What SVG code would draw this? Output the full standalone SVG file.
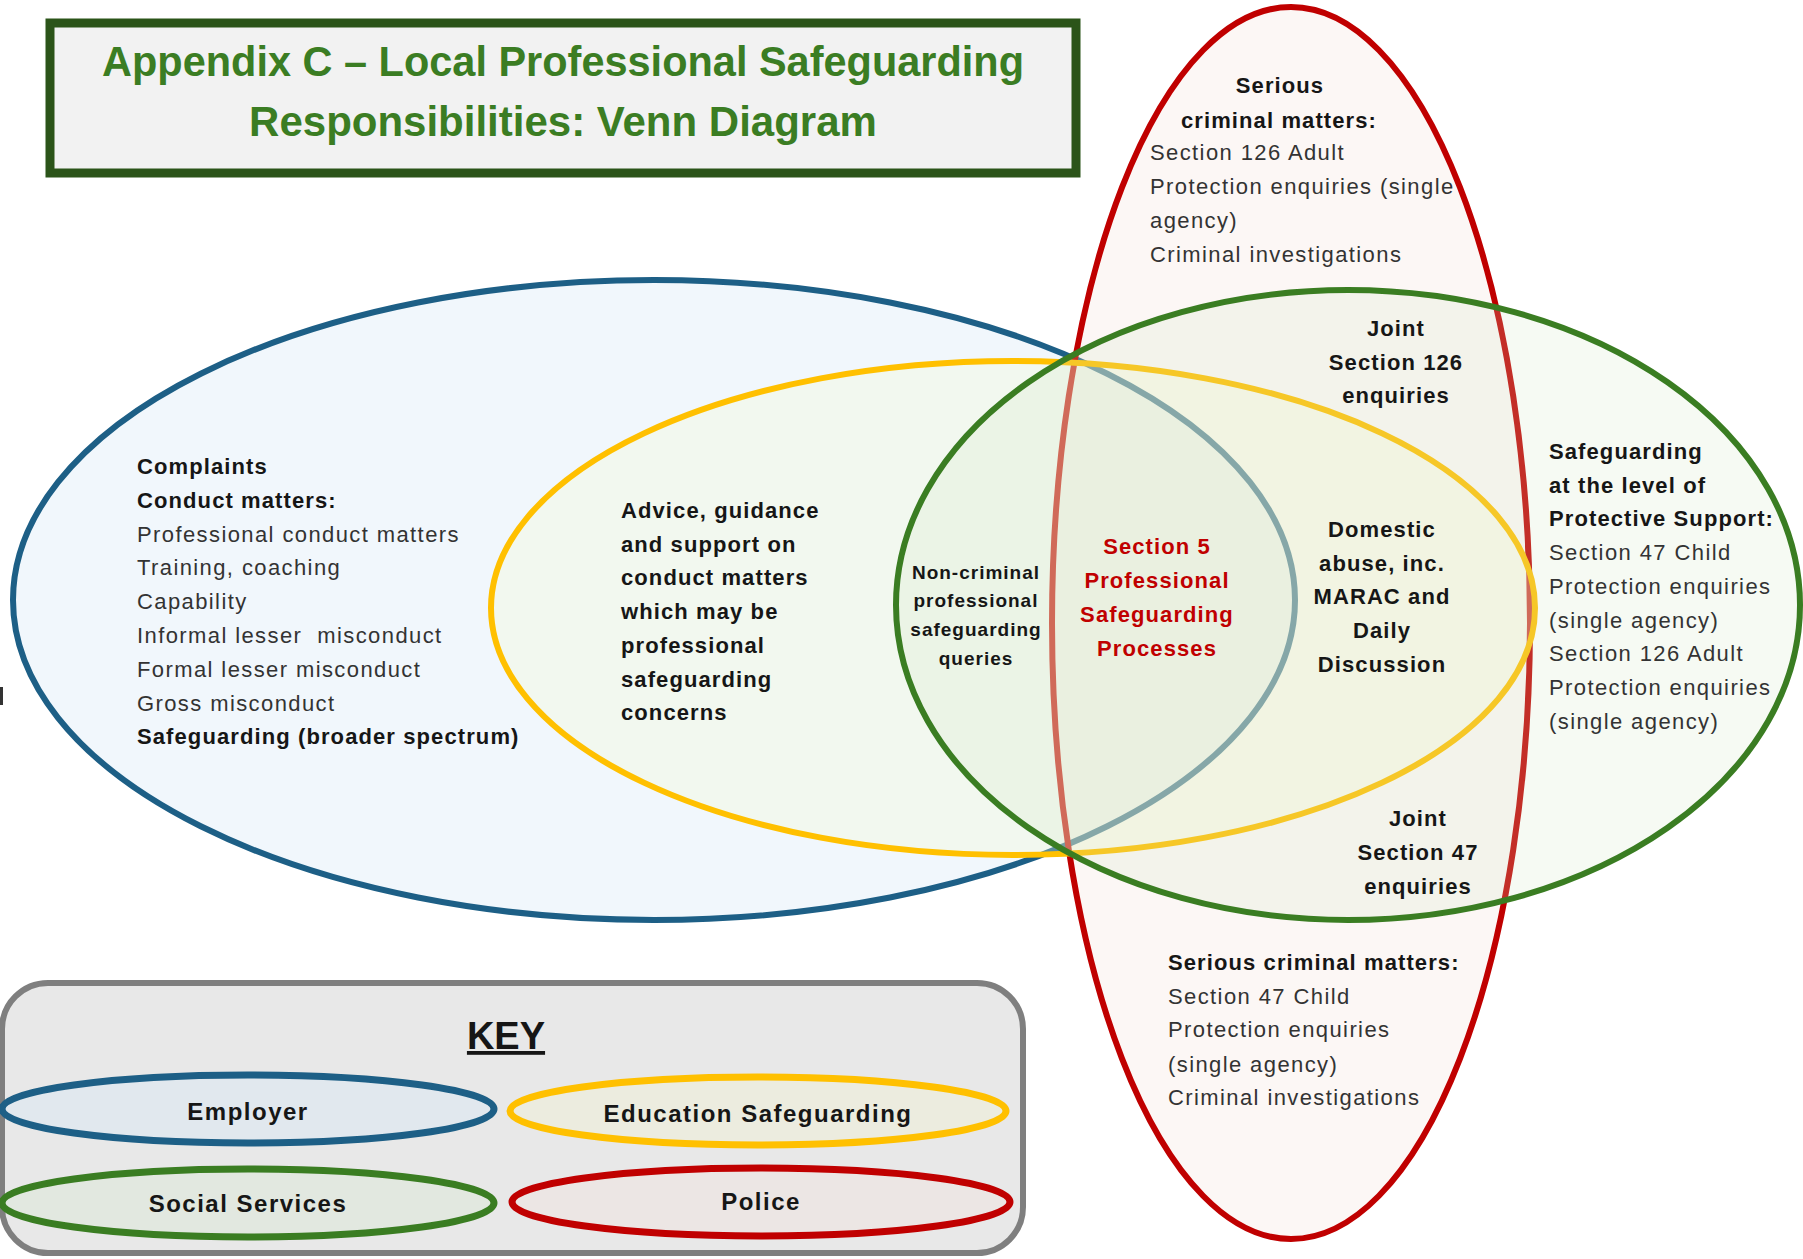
<svg xmlns="http://www.w3.org/2000/svg" width="1803" height="1259" viewBox="0 0 1803 1259">
<style>
text{font-family:"Liberation Sans",Arial,sans-serif;}
.r{font-size:22px;fill:#333333;letter-spacing:1.4px;}
.b{font-size:22px;font-weight:700;fill:#161616;letter-spacing:1.1px;}
.s{font-size:19px;font-weight:700;fill:#161616;letter-spacing:1.0px;}
.red{fill:#c00000;}
.m{text-anchor:middle;}
.title{font-size:42px;font-weight:700;fill:#3b7d23;text-anchor:middle;}
.key{font-size:24px;font-weight:700;fill:#161616;text-anchor:middle;letter-spacing:1.5px;}
.ring{stroke-width:6;}
</style>
<rect x="0" y="0" width="1803" height="1259" fill="#ffffff"/>

<g id="title">
<rect x="50" y="23" width="1026" height="150" fill="#f2f2f2" stroke="#2b5419" stroke-width="9"/>
<text class="title" x="563" y="76" textLength="922" lengthAdjust="spacingAndGlyphs">Appendix C – Local Professional Safeguarding</text>
<text class="title" x="563" y="136">Responsibilities: Venn Diagram</text>
</g>

<rect x="0" y="687" width="3" height="18" fill="#333333"/>

<g id="employer">
<ellipse cx="654" cy="600" rx="641" ry="320" fill="#f1f7fc" stroke="#1d5f86" class="ring"/>
</g>
<g id="police">
<ellipse cx="1291" cy="623" rx="239" ry="616" fill="#ebc8be" fill-opacity="0.15" stroke="#c00000" class="ring"/>
</g>
<g id="education-safeguarding">
<ellipse cx="1013" cy="608" rx="522" ry="247" fill="#f4fccf" fill-opacity="0.3" stroke="#ffc000" class="ring"/>
</g>
<g id="social-services">
<ellipse cx="1348" cy="605" rx="452" ry="315" fill="#d2e6c3" fill-opacity="0.2" stroke="#3a7d22" class="ring"/>
</g>

<g id="connectors"></g>

<g id="employer-text">
<text class="b" x="137" y="474">Complaints</text>
<text class="b" x="137" y="508">Conduct matters:</text>
<text class="r" x="137" y="542">Professional conduct matters</text>
<text class="r" x="137" y="575">Training, coaching</text>
<text class="r" x="137" y="609">Capability</text>
<text class="r" x="137" y="643" xml:space="preserve">Informal lesser  misconduct</text>
<text class="r" x="137" y="677">Formal lesser misconduct</text>
<text class="r" x="137" y="711">Gross misconduct</text>
<text class="b" x="137" y="744">Safeguarding (broader spectrum)</text>
</g>

<g id="education-text">
<text class="b" x="621" y="518">Advice, guidance</text>
<text class="b" x="621" y="552">and support on</text>
<text class="b" x="621" y="585">conduct matters</text>
<text class="b" x="621" y="619">which may be</text>
<text class="b" x="621" y="653">professional</text>
<text class="b" x="621" y="687">safeguarding</text>
<text class="b" x="621" y="720">concerns</text>
</g>

<g id="non-criminal">
<text class="s m" x="976" y="579">Non-criminal</text>
<text class="s m" x="976" y="607">professional</text>
<text class="s m" x="976" y="636">safeguarding</text>
<text class="s m" x="976" y="665">queries</text>
</g>

<g id="section5">
<text class="b m red" x="1157" y="554">Section 5</text>
<text class="b m red" x="1157" y="588">Professional</text>
<text class="b m red" x="1157" y="622">Safeguarding</text>
<text class="b m red" x="1157" y="656">Processes</text>
</g>

<g id="domestic-abuse">
<text class="b m" x="1382" y="537">Domestic</text>
<text class="b m" x="1382" y="571">abuse, inc.</text>
<text class="b m" x="1382" y="604">MARAC and</text>
<text class="b m" x="1382" y="638">Daily</text>
<text class="b m" x="1382" y="672">Discussion</text>
</g>

<g id="joint-s126">
<text class="b m" x="1396" y="336">Joint</text>
<text class="b m" x="1396" y="370">Section 126</text>
<text class="b m" x="1396" y="403">enquiries</text>
</g>

<g id="joint-s47">
<text class="b m" x="1418" y="826">Joint</text>
<text class="b m" x="1418" y="860">Section 47</text>
<text class="b m" x="1418" y="894">enquiries</text>
</g>

<g id="social-text">
<text class="b" x="1549" y="459">Safeguarding</text>
<text class="b" x="1549" y="493">at the level of</text>
<text class="b" x="1549" y="526">Protective Support:</text>
<text class="r" x="1549" y="560">Section 47 Child</text>
<text class="r" x="1549" y="594">Protection enquiries</text>
<text class="r" x="1549" y="628">(single agency)</text>
<text class="r" x="1549" y="661">Section 126 Adult</text>
<text class="r" x="1549" y="695">Protection enquiries</text>
<text class="r" x="1549" y="729">(single agency)</text>
</g>

<g id="police-top-text">
<text class="b m" x="1280" y="93">Serious</text>
<text class="b m" x="1279" y="128">criminal matters:</text>
<text class="r" x="1150" y="160">Section 126 Adult</text>
<text class="r" x="1150" y="194">Protection enquiries (single</text>
<text class="r" x="1150" y="228">agency)</text>
<text class="r" x="1150" y="262">Criminal investigations</text>
</g>

<g id="police-bottom-text">
<text class="b" x="1168" y="970">Serious criminal matters:</text>
<text class="r" x="1168" y="1004">Section 47 Child</text>
<text class="r" x="1168" y="1037">Protection enquiries</text>
<text class="r" x="1168" y="1072">(single agency)</text>
<text class="r" x="1168" y="1105">Criminal investigations</text>
</g>

<g id="key">
<rect x="2" y="983" width="1021" height="270" rx="46" ry="46" fill="#e8e8e8" stroke="#7f7f7f" stroke-width="6"/>
<text x="506" y="1049" font-size="38" font-weight="700" fill="#161616" text-anchor="middle" text-decoration="underline">KEY</text>
<g id="key-employer">
<ellipse cx="248" cy="1109" rx="246" ry="34" fill="#e1e8ee" stroke="#1d5f86" stroke-width="7"/>
<text class="key" x="248" y="1120">Employer</text>
</g>
<g id="key-education">
<ellipse cx="758" cy="1111" rx="248" ry="34" fill="#ececdf" stroke="#ffc000" stroke-width="7"/>
<text class="key" x="758" y="1122">Education Safeguarding</text>
</g>
<g id="key-social">
<ellipse cx="248" cy="1203" rx="246" ry="34" fill="#e2e8e0" stroke="#3a7d22" stroke-width="7"/>
<text class="key" x="248" y="1212">Social Services</text>
</g>
<g id="key-police">
<ellipse cx="761" cy="1202" rx="249" ry="34" fill="#ece6e4" stroke="#c00000" stroke-width="7"/>
<text class="key" x="761" y="1210">Police</text>
</g>
</g>
</svg>
